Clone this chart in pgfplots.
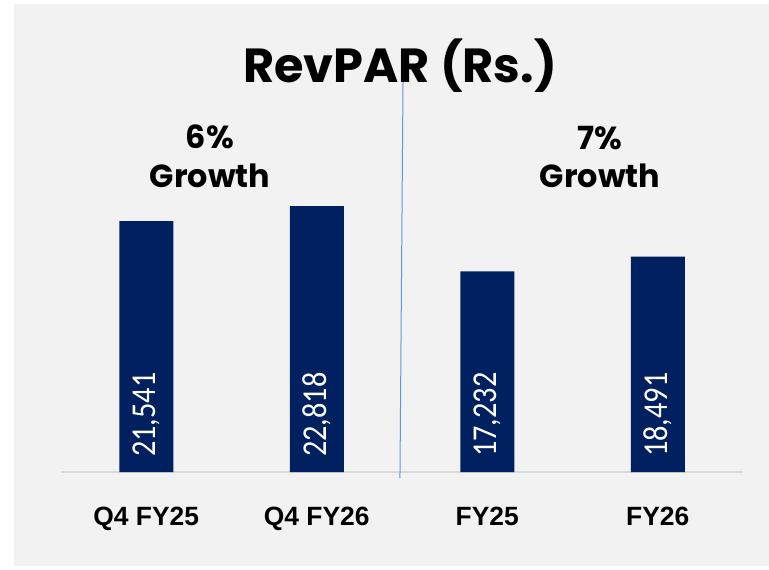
\documentclass[border=0pt]{standalone}
\usepackage{pgfplots}
\pgfplotsset{compat=1.18}
\usepackage{pgfplotstable}
\usepackage{fontspec}
\setmainfont{Liberation Sans}
\newfontfamily\poppins{Poppins}
\newfontfamily\carlito{Carlito}
\definecolor{navy}{HTML}{002060}
\definecolor{bg}{HTML}{F2F2F2}
\definecolor{baseln}{HTML}{D9D9D9}
\definecolor{divider}{HTML}{5B9BD5}

\pgfplotstableread{
x y
0 21541
1 22818
2 17232
3 18491
}\revpar

\begin{document}
\begin{tikzpicture}[x=1bp,y=1bp]
\useasboundingbox (0,0) rectangle (769,-570);
\fill[white] (0,0) rectangle (769,-570);
\fill[bg] (14,-4) rectangle (769,-566);
\begin{axis}[
  at={(61bp,-472bp)}, anchor=south west,
  scale only axis, width=682bp, height=407.75bp,
  xmin=-0.5, xmax=3.5, ymin=0, ymax=35000,
  axis x line=bottom, axis y line=none,
  x axis line style={draw=baseln, line width=1.5bp, -},
  xtick={0,1,2,3},
  xticklabels={Q4 FY25, Q4 FY26, FY25, FY26},
  major tick length=0pt,
  ytick=\empty,
  xticklabel style={font=\bfseries\fontsize{26.5}{30}\selectfont, anchor=base, yshift=-53bp},
  clip=false,
  /pgf/number format/1000 sep={,},
  /pgf/number format/assume math mode=true,
]
\addplot[ybar, bar width=54bp, fill=navy, draw=none] table[x=x, y=y]{\revpar};
\addplot[draw=none, mark=none, nodes near coords, point meta=explicit,
  nodes near coords style={font=\carlito\fontsize{35}{35}\selectfont, text=white, inner sep=0pt, yshift=15bp, rotate=90, xscale=0.87, anchor=west}]
  table[x=x, y expr=0, meta=y]{\revpar};
\draw[divider, line width=1bp] (axis cs:1.506,33648) -- (axis cs:1.488,-515);
\end{axis}
\node[font=\poppins\bfseries\fontsize{48}{50}\selectfont, anchor=base] at (400,-83) {RevPAR (Rs.)};
\node[font=\poppins\bfseries\fontsize{32}{34}\selectfont, anchor=base] at (210,-149) {6\%};
\node[font=\poppins\bfseries\fontsize{32}{34}\selectfont, anchor=base] at (210,-188) {Growth};
\node[font=\poppins\bfseries\fontsize{32}{34}\selectfont, anchor=base] at (600,-150) {7\%};
\node[font=\poppins\bfseries\fontsize{32}{34}\selectfont, anchor=base] at (600,-188) {Growth};
\end{tikzpicture}
\end{document}
